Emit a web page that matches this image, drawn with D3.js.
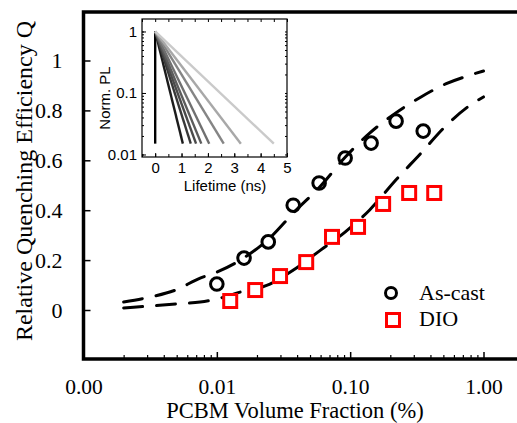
<!DOCTYPE html>
<html>
<head>
<meta charset="utf-8">
<script src="https://cdn.jsdelivr.net/npm/d3@7"></script>
<style>
  html, body { margin: 0; padding: 0; background: #fff; }
  svg { display: block; }
  svg text { font-family: "Liberation Serif", "Times New Roman", Times, serif; fill: #000; }
  svg .inset text { font-family: "Liberation Sans", Arial, Helvetica, sans-serif; }
</style>
</head>
<body>
<svg id="chart" width="517" height="423"></svg>
<script>
// ---- Measured quenching efficiency vs. PCBM volume fraction ----
const asCastFraction = [0.0100, 0.0160, 0.0243, 0.0374, 0.0585, 0.0917, 0.1436, 0.221, 0.353];
const asCastQ        = [0.104, 0.208, 0.273, 0.420, 0.509, 0.609, 0.669, 0.757, 0.717];
const dioFraction    = [0.0126, 0.0194, 0.0298, 0.0468, 0.0731, 0.1146, 0.1767, 0.277, 0.427];
const dioQ           = [0.036, 0.080, 0.136, 0.192, 0.293, 0.333, 0.425, 0.469, 0.469];

// ---- Model curves (dashed) ----
const fitFraction = [0.002, 0.00316, 0.0049, 0.0075, 0.01, 0.015, 0.025, 0.0375, 0.06, 0.092, 0.14, 0.22, 0.34, 0.52, 0.8, 1.0];
const asCastFitQ  = [0.032, 0.052, 0.080, 0.128, 0.152, 0.200, 0.289, 0.389, 0.497, 0.613, 0.709, 0.790, 0.854, 0.906, 0.942, 0.958];
const dioFitQ     = [0.008, 0.016, 0.024, 0.032, 0.044, 0.072, 0.104, 0.160, 0.240, 0.313, 0.401, 0.521, 0.629, 0.737, 0.822, 0.854];

// ---- Axis ticks ----
const xMajorTicks = [0.001, 0.01, 0.1, 1];
const yTicks = [0, 0.2, 0.4, 0.6, 0.8, 1];
const seriesNames = ["As-cast", "DIO"];

// ---- Inset: normalised PL decays (start at t = 0, PL = 1) ----
const decayEndTime = [0, 1.05, 1.35, 1.55, 1.75, 2.05, 2.6, 3.25, 4.5];
const decayEndPL   = [0.015, 0.015, 0.015, 0.015, 0.015, 0.015, 0.015, 0.015, 0.015];
const insetXTicks = [0, 1, 2, 3, 4, 5];
const insetYTicks = [1, 0.1, 0.01];

const decayShades = ["#000000", "#1c1c1c", "#383838", "#4a4a4a", "#5c5c5c", "#707070", "#858585", "#a8a8a8", "#cacaca"];

const svg = d3.select("#chart");

// ---- Main scales ----
const x = d3.scaleLog().domain([0.001, 1]).range([83.5, 483.5]);
const y = d3.scaleLinear().domain([0, 1]).range([310, 60.5]);
const plot = { left: 83.5, top: 12, bottom: 359, right: 540 };

// minor ticks 2..9 × each decade
const xMinorTicks = [];
[0.001, 0.01, 0.1].forEach(d => { for (let k = 2; k <= 9; k++) xMinorTicks.push(d * k); });

// x axis minor ticks
svg.append("g")
  .attr("transform", `translate(0,${plot.bottom})`)
  .call(d3.axisBottom(x).tickValues(xMinorTicks).tickSize(-4).tickFormat(""))
  .call(g => g.select(".domain").remove())
  .call(g => g.selectAll("line").attr("stroke", "#000").attr("stroke-width", 1.2));

// x axis major ticks + labels
svg.append("g")
  .attr("transform", `translate(0,${plot.bottom})`)
  .call(d3.axisBottom(x).tickValues(xMajorTicks).tickSize(-7).tickPadding(20).tickFormat(d3.format(".2f")))
  .call(g => g.select(".domain").remove())
  .call(g => g.selectAll("line").attr("stroke", "#000").attr("stroke-width", 1.5))
  .call(g => g.selectAll("text").attr("font-size", 21.5));

// y axis
svg.append("g")
  .attr("transform", `translate(${plot.left},0)`)
  .call(d3.axisLeft(y).tickValues(yTicks).tickSize(-7).tickPadding(21).tickFormat(d3.format("~g")))
  .call(g => g.select(".domain").remove())
  .call(g => g.selectAll("line").attr("stroke", "#000").attr("stroke-width", 1.5))
  .call(g => g.selectAll("text").attr("font-size", 22).attr("dy", "0.34em"));

// frame (right edge runs past the canvas)
svg.append("path")
  .attr("d", `M${plot.right},${plot.top}H${plot.left}V${plot.bottom}H${plot.right}`)
  .attr("fill", "none").attr("stroke", "#000").attr("stroke-width", 3.5);

// axis titles
svg.append("text")
  .attr("x", 295).attr("y", 417.5)
  .attr("text-anchor", "middle")
  .attr("font-size", 22.5)
  .text("PCBM Volume Fraction (%)");

svg.append("text")
  .attr("transform", "translate(32,181) rotate(-90)")
  .attr("text-anchor", "middle")
  .attr("font-size", 24)
  .text("Relative Quenching Efficiency Q");

// dashed model curves
const fitLine = d3.line().x(d => x(d[0])).y(d => y(d[1])).curve(d3.curveMonotoneX);
[asCastFitQ, dioFitQ].forEach(vals => {
  svg.append("path")
    .datum(fitFraction.map((f, i) => [f, vals[i]]))
    .attr("d", fitLine)
    .attr("fill", "none").attr("stroke", "#000")
    .attr("stroke-width", 3).attr("stroke-linecap", "round")
    .attr("stroke-dasharray", "19,14");
});

// DIO squares
const sq = 13;
svg.append("g").selectAll("rect")
  .data(dioFraction.map((f, i) => [f, dioQ[i]]))
  .join("rect")
  .attr("x", d => x(d[0]) - sq / 2).attr("y", d => y(d[1]) - sq / 2)
  .attr("width", sq).attr("height", sq)
  .attr("fill", "#fff").attr("stroke", "#ff0000").attr("stroke-width", 3);

// As-cast circles
svg.append("g").selectAll("circle")
  .data(asCastFraction.map((f, i) => [f, asCastQ[i]]))
  .join("circle")
  .attr("cx", d => x(d[0])).attr("cy", d => y(d[1]))
  .attr("r", 6.3)
  .attr("fill", "none").attr("stroke", "#000").attr("stroke-width", 3);

// legend
const legend = svg.append("g");
legend.append("circle").attr("cx", 391).attr("cy", 293).attr("r", 5.5)
  .attr("fill", "none").attr("stroke", "#000").attr("stroke-width", 3);
legend.append("rect").attr("x", 393 - 6.5).attr("y", 320 - 6.5).attr("width", 13).attr("height", 13)
  .attr("fill", "none").attr("stroke", "#ff0000").attr("stroke-width", 3);
legend.selectAll("text").data(seriesNames).join("text")
  .attr("x", 419).attr("y", (d, i) => 300 + i * 26)
  .attr("font-size", 22)
  .text(d => d);

// ---- Inset ----
const ix = d3.scaleLinear().domain([-0.5, 5]).range([142, 287]);
const iy = d3.scaleLog().domain([0.0091, 1.48]).range([157, 21]);
const inset = svg.append("g").attr("class", "inset");

inset.append("rect")
  .attr("x", 142).attr("y", 19).attr("width", 145).attr("height", 138)
  .attr("fill", "#fff");

const decayLine = d3.line().x(d => ix(d[0])).y(d => iy(d[1]));
decayEndTime.forEach((t, i) => {
  inset.append("path")
    .datum([[0, 1], [t, decayEndPL[i]]])
    .attr("d", decayLine)
    .attr("fill", "none")
    .attr("stroke", decayShades[i])
    .attr("stroke-width", 2.4);
});

const insetXMinor = d3.range(-0.5, 5.01, 0.5);
const insetYMinor = [];
[0.001, 0.01, 0.1, 1].forEach(d => { for (let k = 1; k <= 9; k++) { const v = d * k; if (v >= 0.0091 && v <= 1.48) insetYMinor.push(v); } });

const thin = g => g.call(s => s.select(".domain").remove())
  .call(s => s.selectAll("line").attr("stroke", "#000").attr("stroke-width", 1));

inset.append("g").attr("transform", "translate(0,157)")
  .call(d3.axisBottom(ix).tickValues(insetXMinor).tickSize(-3).tickFormat("")).call(thin);
inset.append("g").attr("transform", "translate(0,19)")
  .call(d3.axisTop(ix).tickValues(insetXMinor).tickSize(-3).tickFormat("")).call(thin);
inset.append("g").attr("transform", "translate(142,0)")
  .call(d3.axisLeft(iy).tickValues(insetYMinor).tickSize(-2).tickFormat("")).call(thin);
inset.append("g").attr("transform", "translate(287,0)")
  .call(d3.axisRight(iy).tickValues(insetYMinor).tickSize(-2).tickFormat("")).call(thin);

inset.append("g").attr("transform", "translate(0,157)")
  .call(d3.axisBottom(ix).tickValues(insetXTicks).tickSize(-4).tickPadding(5).tickFormat(d3.format("d")))
  .call(thin)
  .call(g => g.selectAll("text").attr("font-size", 15));
inset.append("g").attr("transform", "translate(142,0)")
  .call(d3.axisLeft(iy).tickValues(insetYTicks).tickSize(-4).tickPadding(5).tickFormat(d3.format("~g")))
  .call(thin)
  .call(g => g.selectAll("text").attr("font-size", 15));

inset.append("rect")
  .attr("x", 142).attr("y", 19).attr("width", 145).attr("height", 138)
  .attr("fill", "none").attr("stroke", "#000").attr("stroke-width", 1.2);

inset.append("text")
  .attr("x", 225).attr("y", 191).attr("text-anchor", "middle")
  .attr("font-size", 15)
  .text("Lifetime (ns)");
inset.append("text")
  .attr("transform", "translate(110,98) rotate(-90)")
  .attr("text-anchor", "middle")
  .attr("font-size", 15)
  .text("Norm. PL");
</script>
</body>
</html>
